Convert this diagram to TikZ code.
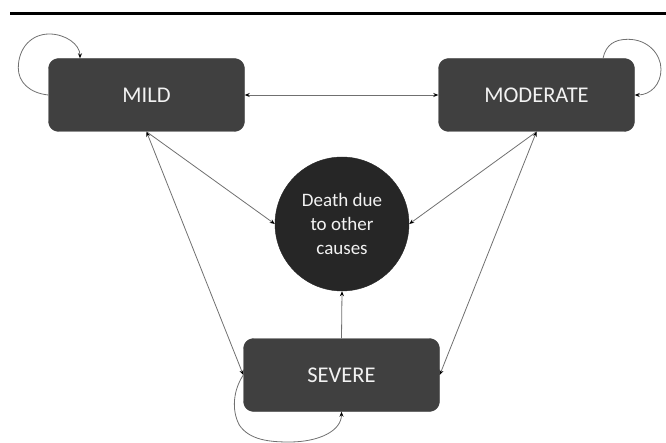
\documentclass[tikz,border=0pt]{standalone}
\usepackage{fontspec}
\setmainfont{Carlito}
\usetikzlibrary{arrows.meta}
\definecolor{boxfill}{HTML}{404040}
\definecolor{circfill}{HTML}{262626}
\definecolor{txt}{HTML}{F2F2F2}
\definecolor{edge}{HTML}{707070}
\begin{document}
\begin{tikzpicture}[x=1pt,y=-1pt,
  statebox/.style={draw=boxfill,fill=boxfill,rounded corners=10pt,minimum width=196pt,minimum height=73pt,inner sep=0pt,text=txt,font=\fontsize{22.5}{24}\selectfont},
  deathnode/.style={circle,draw=circfill,fill=circfill,minimum size=134pt,inner sep=0pt,text=txt,align=center,font=\fontsize{19}{24}\selectfont},
  conn/.style={draw=edge,line width=0.8pt,-{Stealth[length=5pt,width=4pt,color=black]}},
  bconn/.style={draw=edge,line width=0.8pt,{Stealth[length=5pt,width=4pt,color=black]}-{Stealth[length=5pt,width=4pt,color=black]}},
  rule/.style={line width=2.3pt,black}]
\useasboundingbox (0,0) rectangle (666,443);
\coordinate (ruleA) at (10,13.5);
\coordinate (ruleB) at (666,13.5);
\draw[rule] (ruleA) -- (ruleB);
\node[statebox] (mild) at (146.5,95) {MILD};
\node[statebox] (moderate) at (536.5,95) {MODERATE};
\node[statebox] (severe) at (341.5,375) {SEVERE};
\node[deathnode] (death) at (342,224) {Death due\\to other\\causes};
\draw[bconn] (mild.east) -- (moderate.west);
\draw[conn] (mild.south) -- (death.west);
\draw[conn] (moderate.south) -- (death.east);
\draw[conn] (severe.north) -- (death.south);
\draw[bconn] (mild.south) -- (severe.west);
\draw[bconn] (moderate.south) -- (severe.east);
% self loops
\draw[conn] (mild.west) .. controls +(-19,-2) and +(0,14) .. ++(-30,-27)
  .. controls +(0,-20) and +(-18,0) .. ++(31,-34)
  .. controls +(16,0) and +(0,-14) .. (mild.north west -| 80,0);
\draw[conn] (moderate.north east -| 603,0) .. controls +(3,-14) and +(-13,0) .. ++(25,-19)
  .. controls +(20,0) and +(0,-15) .. ++(33,30)
  .. controls +(0,15) and +(16,0) .. (moderate.east);
\draw[conn] (severe.west) .. controls +(-10,15) and +(-8,-15) .. ++(-4,50)
  .. controls +(10,15) and +(-20,0) .. ++(50,17)
  .. controls +(30,0) and +(0,19) .. (severe.south);
\end{tikzpicture}
\end{document}
